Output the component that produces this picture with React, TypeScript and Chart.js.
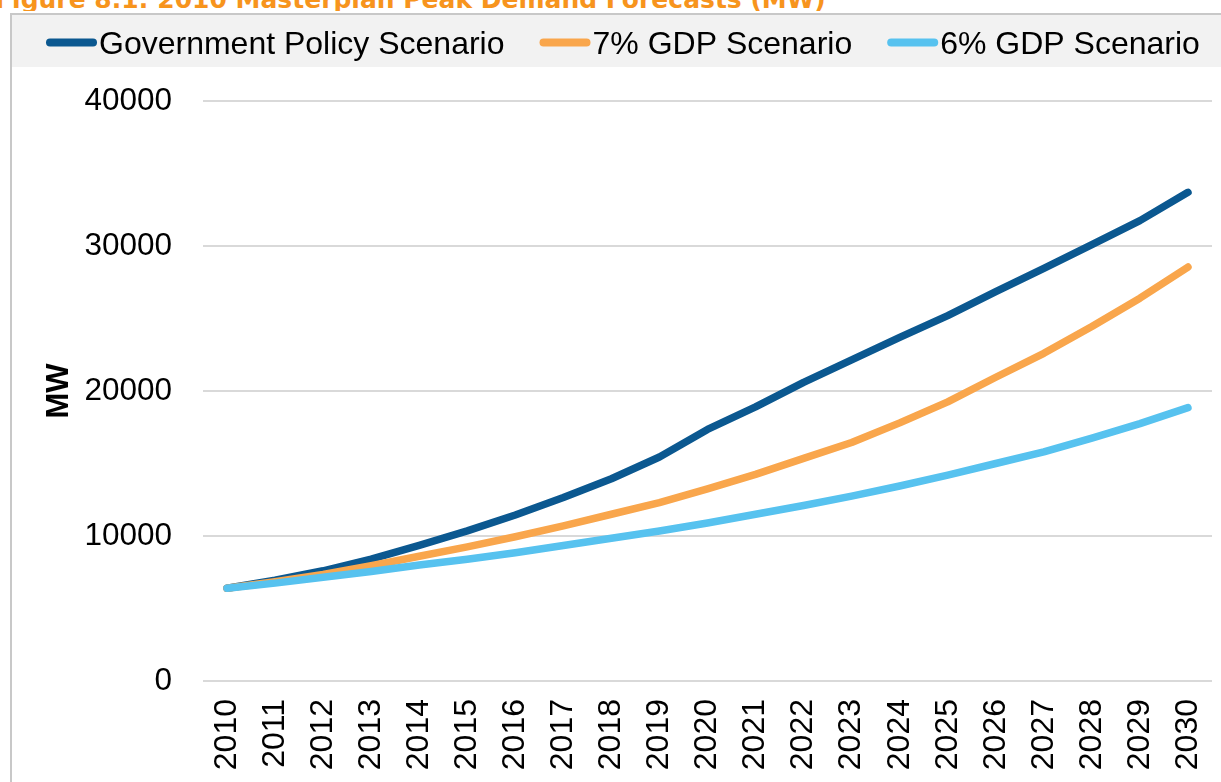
import React, { useEffect, useRef } from "react";
import { Chart, registerables } from "chart.js";

Chart.register(...registerables);

const years = ["2010","2011","2012","2013","2014","2015","2016","2017","2018","2019","2020","2021","2022","2023","2024","2025","2026","2027","2028","2029","2030"];
const governmentPolicy = [6400, 6950, 7600, 8400, 9350, 10350, 11450, 12650, 13950, 15450, 17350, 18900, 20600, 22150, 23700, 25200, 26850, 28450, 30100, 31750, 33700];
const gdp7 = [6400, 6850, 7350, 7950, 8600, 9250, 9950, 10700, 11500, 12300, 13250, 14250, 15350, 16450, 17800, 19250, 20950, 22600, 24450, 26400, 28550];
const gdp6 = [6400, 6750, 7150, 7550, 8000, 8400, 8850, 9350, 9850, 10350, 10900, 11500, 12100, 12750, 13450, 14200, 15000, 15800, 16750, 17750, 18850];
const seriesLabels = ["Government Policy Scenario", "7% GDP Scenario", "6% GDP Scenario"];
const yTicks = [0, 10000, 20000, 30000, 40000];
const titleText = "Figure 8.1: 2010 Masterplan Peak Demand Forecasts (MW)";

const FONT = '"Liberation Sans", Arial, sans-serif';
const LEGEND_H = 52;

const legendPlugin = {
  id: "customLegend",
  beforeDraw(chart: any) {
    const { ctx, width } = chart;
    ctx.save();
    ctx.fillStyle = "#f2f2f2";
    ctx.fillRect(0, 0, width, LEGEND_H);
    ctx.restore();
  },
  afterDraw(chart: any) {
    const { ctx } = chart;
    ctx.save();
    ctx.font = `32px ${FONT}`;
    ctx.textBaseline = "alphabetic";
    ctx.textAlign = "left";
    const sample = 51;
    const gap = 2;
    const itemGap = 35;
    let x = 34;
    chart.data.datasets.forEach((ds: any) => {
      ctx.strokeStyle = ds.borderColor;
      ctx.lineWidth = 8;
      ctx.lineCap = "round";
      ctx.beginPath();
      ctx.moveTo(x + 4, 27.5);
      ctx.lineTo(x + sample - 4, 27.5);
      ctx.stroke();
      ctx.fillStyle = "#000";
      ctx.fillText(ds.label, x + sample + gap, 38.5);
      x += sample + gap + ctx.measureText(ds.label).width + itemGap;
    });
    ctx.restore();
  },
};

export default function App() {
  const canvasRef = useRef<HTMLCanvasElement | null>(null);

  useEffect(() => {
    document.body.style.margin = "0";
    const canvas = canvasRef.current;
    if (!canvas) return;
    const chart = new Chart(canvas, {
      type: "line",
      data: {
        labels: years,
        datasets: [
          {
            label: seriesLabels[0],
            data: governmentPolicy,
            borderColor: "#0b5890",
            backgroundColor: "#0b5890",
            borderWidth: 7.5,
            borderCapStyle: "round",
            borderJoinStyle: "round",
            pointRadius: 0,
            tension: 0,
            order: 3,
          },
          {
            label: seriesLabels[1],
            data: gdp7,
            borderColor: "#f9a64c",
            backgroundColor: "#f9a64c",
            borderWidth: 7.5,
            borderCapStyle: "round",
            borderJoinStyle: "round",
            pointRadius: 0,
            tension: 0,
            order: 2,
          },
          {
            label: seriesLabels[2],
            data: gdp6,
            borderColor: "#57c2ef",
            backgroundColor: "#57c2ef",
            borderWidth: 7.5,
            borderCapStyle: "round",
            borderJoinStyle: "round",
            pointRadius: 0,
            tension: 0,
            order: 1,
          },
        ],
      },
      options: {
        animation: false,
        responsive: false,
        maintainAspectRatio: false,
        layout: { padding: { top: 86, left: 0, right: 9, bottom: 0 } },
        plugins: {
          legend: { display: false },
          tooltip: { enabled: false },
          title: { display: false },
        },
        scales: {
          x: {
            offset: true,
            grid: { display: false, drawTicks: false },
            border: { display: false },
            ticks: {
              color: "#000",
              font: { family: FONT, size: 32 },
              minRotation: 90,
              maxRotation: 90,
              padding: 18,
              autoSkip: false,
            },
            afterFit: (scale: any) => {
              scale.height = 101;
              scale.paddingLeft = 0;
              scale.paddingRight = 0;
            },
          },
          y: {
            min: 0,
            max: 40000,
            afterBuildTicks: (scale: any) => {
              scale.ticks = yTicks.map((v) => ({ value: v }));
            },
            grid: { color: "#d9d9d9", lineWidth: 2, drawTicks: false },
            border: { display: false },
            ticks: {
              color: "#000",
              font: { family: FONT, size: 31.5 },
              padding: 31,
              callback: (v: any) => String(v),
            },
            title: {
              display: true,
              text: "MW",
              color: "#000",
              font: { family: FONT, size: 31, weight: "bold" },
              padding: { top: 29, bottom: 7 },
            },
            afterFit: (scale: any) => {
              scale.width = 191;
              scale.paddingTop = 0;
              scale.paddingBottom = 0;
            },
          },
        },
      },
      plugins: [legendPlugin],
    } as any);
    return () => chart.destroy();
  }, []);

  return (
    <div style={{ position: "fixed", left: 0, top: 0, width: 1221, height: 782, overflow: "hidden", background: "#fff" }}>
      <div style={{ position: "absolute", left: 0, top: 0, width: 1221, height: 11, overflow: "hidden" }}>
        <span
          style={{
            position: "absolute",
            left: -5,
            top: -13,
            whiteSpace: "nowrap",
            fontFamily: '"DejaVu Sans", sans-serif',
            fontWeight: "bold",
            fontSize: 25,
            lineHeight: "25px",
            color: "#f7941d",
          }}
        >
          {titleText}
        </span>
      </div>
      <div
        style={{
          position: "absolute",
          left: 10,
          top: 13,
          width: 1211,
          height: 769,
          borderLeft: "2px solid #c8c8c8",
          borderTop: "2px solid #c8c8c8",
        }}
      />
      <canvas
        ref={canvasRef}
        width={1209}
        height={767}
        style={{ position: "absolute", left: 12, top: 15, width: 1209, height: 767 }}
      />
    </div>
  );
}
